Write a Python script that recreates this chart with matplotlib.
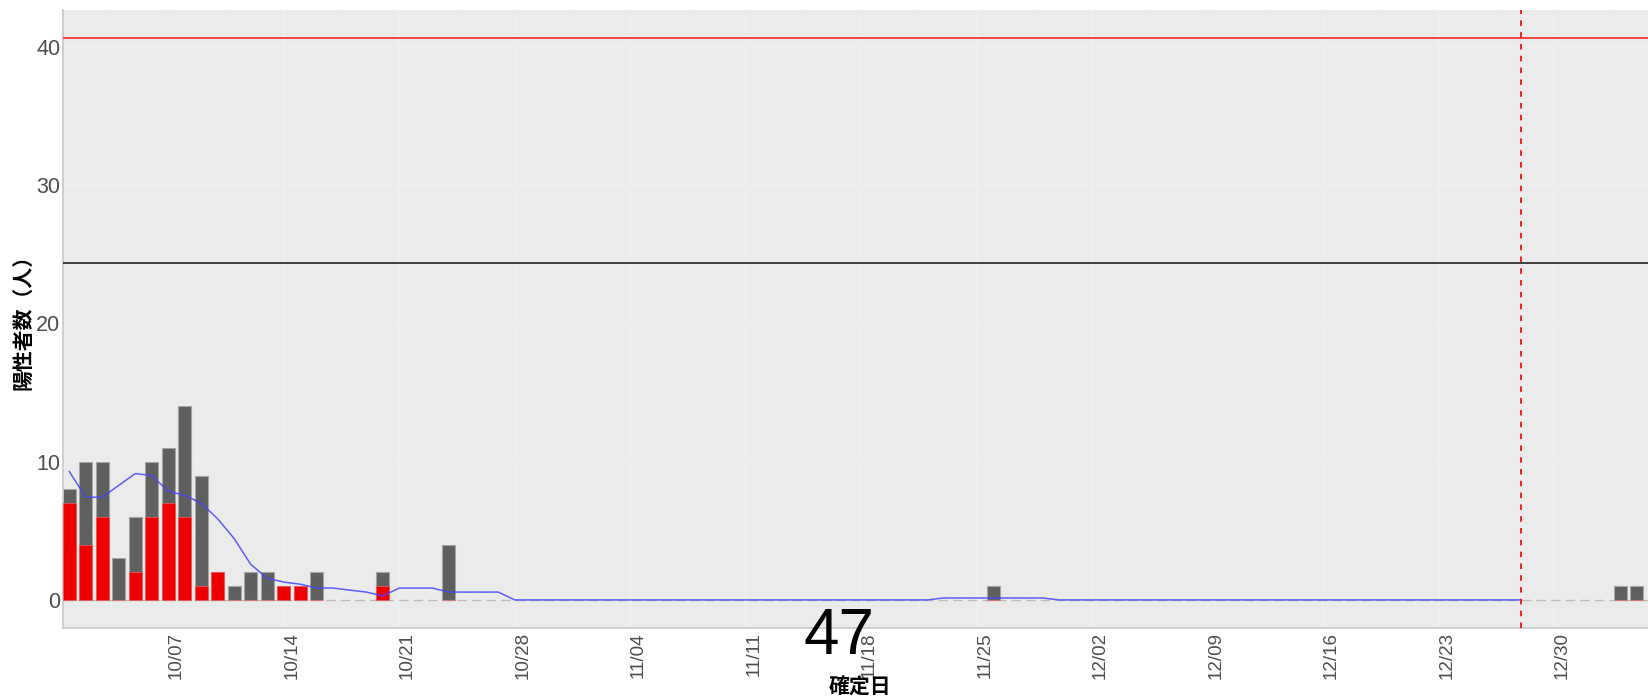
import matplotlib
matplotlib.use("Agg")
import matplotlib.pyplot as plt
import matplotlib.dates as mdates
import matplotlib.transforms as mtransforms
import numpy as np
import datetime as dt

# ---------------- data ----------------
bar_dates = ["2020-10-01", "2020-10-02", "2020-10-03", "2020-10-04", "2020-10-05",
             "2020-10-06", "2020-10-07", "2020-10-08", "2020-10-09", "2020-10-10",
             "2020-10-11", "2020-10-12", "2020-10-13", "2020-10-14", "2020-10-15",
             "2020-10-16", "2020-10-20", "2020-10-24", "2020-11-26", "2021-01-03",
             "2021-01-04"]
total_cases = [8, 10, 10, 3, 6, 10, 11, 14, 9, 2, 1, 2, 2, 1, 1, 2, 2, 4, 1, 1, 1]
red_cases = [7, 4, 6, 0, 2, 6, 7, 6, 1, 2, 0, 0, 0, 1, 1, 0, 1, 0, 0, 0, 0]

avg_start = "2020-10-01"
avg_values = ([9.29, 7.43, 7.43, 8.29, 9.14, 9.00, 7.86, 7.57, 7.00, 5.86,
               4.43, 2.57, 1.57, 1.29, 1.14, 0.86, 0.86, 0.71, 0.57, 0.29,
               0.86, 0.86, 0.86, 0.57, 0.57, 0.57, 0.57, 0.00]
              + [0.0] * 25 + [0.14] * 7 + [0.0] * 29)

red_hline = 40.65
black_hline = 24.4
vline_date = "2020-12-28"

xtick_labels = ["10/07", "10/14", "10/21", "10/28", "11/04", "11/11", "11/18",
                "11/25", "12/02", "12/09", "12/16", "12/23", "12/30"]
xtick_dates = ["2020-10-07", "2020-10-14", "2020-10-21", "2020-10-28", "2020-11-04",
               "2020-11-11", "2020-11-18", "2020-11-25", "2020-12-02", "2020-12-09",
               "2020-12-16", "2020-12-23", "2020-12-30"]
ytick_values = [0, 10, 20, 30, 40]
y_label = "陽性者数（人）"
x_label = "確定日"
big_number = "47"

# ---------------- figure ----------------
plt.rcParams['lines.scale_dashes'] = False
W, H = 1648, 698
fig = plt.figure(figsize=(W / 100, H / 100), dpi=100)
ax = fig.add_axes([63 / W, 70 / H, (W - 63) / W, 618 / H])
ax.set_facecolor("#EBEBEB")

def d2n(s):
    return mdates.date2num(dt.datetime.strptime(s, "%Y-%m-%d"))

bx = np.array([d2n(s) for s in bar_dates])
tot = np.array(total_cases, dtype=float)
red = np.array(red_cases, dtype=float)

x0 = d2n("2020-10-01")
ax.set_xlim(x0 - 0.38, x0 + 95.68)
ax.set_ylim(-2.03, 42.68)

# grid
ax.set_xticks([d2n(s) for s in xtick_dates])
minor_x = [d2n(s) + 3.5 for s in xtick_dates] + [d2n(xtick_dates[0]) - 3.5]
ax.set_xticks(minor_x, minor=True)
ax.set_yticks(ytick_values)
ax.set_yticks([5, 15, 25, 35], minor=True)
ax.grid(True, which="major", color="#EFEFEF", lw=1.1, zorder=0)
ax.grid(True, which="minor", color="#EEEEEE", lw=0.6, zorder=0)
ax.set_axisbelow(True)

# zero dashed line
ax.axhline(0, color="#BDBDBD", lw=1.0, dashes=(7, 3.5), zorder=1)

# bars
ax.bar(bx, tot, width=0.8, color="#5F5F5F", edgecolor="#A5A5A5", lw=0.8, zorder=2)
ax.bar(bx, red, width=0.8, color="#EE0000", edgecolor="#F26060", lw=0.5, zorder=3)

# moving average line
ad = d2n(avg_start) + np.arange(len(avg_values))
ax.plot(ad, avg_values, color="#4444FF", alpha=0.85, lw=1.1, zorder=4)

# reference lines
ax.axhline(red_hline, color="#FF3333", lw=1.3, zorder=5)
ax.axhline(black_hline, color="#333333", lw=1.3, zorder=5)
ax.axvline(d2n(vline_date), color="#EE1111", lw=1.3, dashes=(4, 4.5), zorder=5)

# axes styling
for s in ["top", "right"]:
    ax.spines[s].set_visible(False)
for s in ["left", "bottom"]:
    ax.spines[s].set_color("#C8C8C8")
    ax.spines[s].set_linewidth(1.2)

ax.set_xticklabels(xtick_labels, rotation=90, fontsize=13.5, color="#4D4D4D",
                   family=["Liberation Sans", "DejaVu Sans"])
ax.set_yticklabels([str(v) for v in ytick_values], fontsize=15.5, color="#4D4D4D",
                   family=["Liberation Sans", "DejaVu Sans"])
ax.tick_params(axis="both", which="both", length=0)
ax.tick_params(axis="x", pad=3)
ax.tick_params(axis="y", pad=2)
offset = mtransforms.ScaledTranslation(8 / 100, 0, fig.dpi_scale_trans)
for lab in ax.get_xticklabels():
    lab.set_transform(lab.get_transform() + offset)

# axis titles
fig.text(23 / W, 1 - 317 / H, y_label, rotation=90, ha="center", va="center",
         fontsize=15, fontweight="bold", color="black",
         family=["Noto Sans CJK JP", "DejaVu Sans"])
fig.text(860 / W, 1 - 687 / H, x_label, ha="center", va="center",
         fontsize=15, fontweight="bold", color="black",
         family=["Noto Sans CJK JP", "DejaVu Sans"])

# big number
fig.text(839 / W, 1 - 653.5 / H, big_number, ha="center", va="baseline",
         fontsize=46, color="black", family=["Liberation Sans", "DejaVu Sans"])

fig.savefig("out.png", dpi=100)
